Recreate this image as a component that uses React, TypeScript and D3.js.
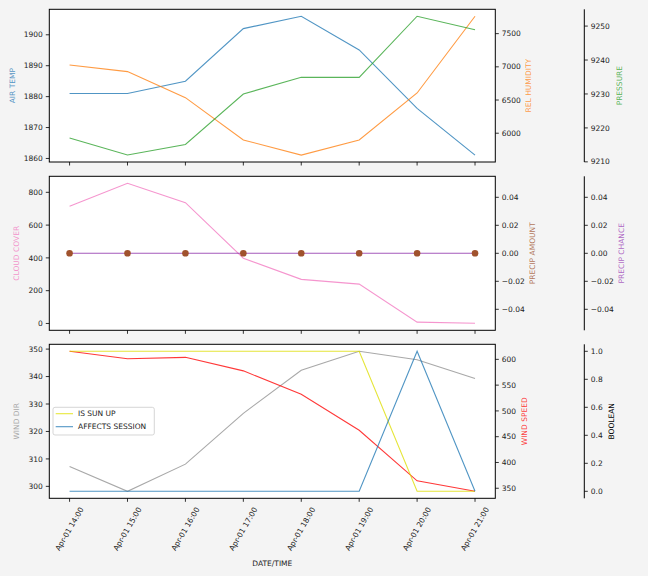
import React from 'react';
import * as d3 from 'd3';

// hourly readings
const times = ['Apr-01 14:00', 'Apr-01 15:00', 'Apr-01 16:00', 'Apr-01 17:00', 'Apr-01 18:00', 'Apr-01 19:00', 'Apr-01 20:00', 'Apr-01 21:00'];
const airTemp = [1881, 1881, 1885, 1902, 1906, 1895.1, 1876.2, 1861.1];
const relHumidity = [7028, 6928, 6536, 5899, 5671, 5899, 6606, 7762];
const pressure = [9217, 9212, 9215.1, 9230, 9234.9, 9234.9, 9252.9, 9248.9];
const cloudCover = [715, 855, 737, 398, 269, 240, 8, 1];
const precipAmount = [0, 0, 0, 0, 0, 0, 0, 0];
const precipChance = [0, 0, 0, 0, 0, 0, 0, 0];
const windDir = [307.2, 298.2, 308.1, 326.6, 342.3, 349.2, 346.1, 339.3];
const windSpeed = [615.6, 601.2, 603.9, 577.7, 532.2, 462.5, 364.4, 344.1];
const isSunUp = [1, 1, 1, 1, 1, 1, 0, 0];
const affectsSession = [0, 0, 0, 0, 0, 0, 1, 0];

// tick labels
const tempTicks = [1860, 1870, 1880, 1890, 1900];
const humTicks = [6000, 6500, 7000, 7500];
const pressTicks = [9210, 9220, 9230, 9240, 9250];
const cloudTicks = [0, 200, 400, 600, 800];
const precipTicks = [-0.04, -0.02, 0, 0.02, 0.04];
const dirTicks = [300, 310, 320, 330, 340, 350];
const speedTicks = [350, 400, 450, 500, 550, 600];
const boolTicks = [0, 0.2, 0.4, 0.6, 0.8, 1.0];

const W = 648;
const H = 576;
const X0 = 49.3;
const X1 = 495.3;
const X2 = 584.3;
const FONT = 'DejaVu Sans, sans-serif';
const FS = 7.5;
const TICK = 3.5;
const ALPHA = 0.78;

// matplotlib-like 5% margins
function padded(vals: number[]): [number, number] {
  const [lo, hi] = d3.extent(vals) as [number, number];
  const r = hi - lo;
  if (r === 0) return [lo - 0.055, hi + 0.055];
  return [lo - 0.05 * r, hi + 0.05 * r];
}

const x = d3.scalePoint<string>().domain(times).range([X0, X1]).padding(0.35);

const fmtMinus = (s: string) => s.replace('-', '\u2212');

function YAxis(props: { scale: d3.ScaleLinear<number, number>; ticks: number[]; at: number; side: 'left' | 'right'; fmt: (v: number) => string; spine?: boolean }) {
  const { scale, ticks, at, side, fmt, spine } = props;
  const dir = side === 'left' ? -1 : 1;
  const [r0, r1] = scale.range();
  return (
    <g>
      {spine && <line x1={at} x2={at} y1={r0} y2={r1} stroke="#000" strokeWidth={1} />}
      {ticks.map((t) => (
        <g key={t} transform={`translate(0,${scale(t)})`}>
          <line x1={at} x2={at + dir * TICK} stroke="#000" strokeWidth={0.8} />
          <text
            x={at + dir * (TICK + 3)}
            dy="0.35em"
            textAnchor={side === 'left' ? 'end' : 'start'}
            fontSize={FS}
            fontFamily={FONT}
            fill="#222"
          >
            {fmtMinus(fmt(t))}
          </text>
        </g>
      ))}
    </g>
  );
}

function AxisLabel(props: { text: string; x: number; y: number; color: string }) {
  return (
    <text
      transform={`translate(${props.x},${props.y}) rotate(-90)`}
      textAnchor="middle"
      dominantBaseline="central"
      fontSize={FS}
      fontFamily={FONT}
      fill={props.color}
      fillOpacity={props.color === '#000' ? 1 : ALPHA}
    >
      {props.text}
    </text>
  );
}

function Series(props: { data: number[]; y: d3.ScaleLinear<number, number>; color: string }) {
  const line = d3
    .line<number>()
    .x((_, i) => x(times[i]) as number)
    .y((d) => props.y(d));
  return <path d={line(props.data) || ''} fill="none" stroke={props.color} strokeOpacity={ALPHA} strokeWidth={1.1} />;
}

function Frame(props: { top: number; bottom: number }) {
  return (
    <g>
      <rect x={X0} y={props.top} width={X1 - X0} height={props.bottom - props.top} fill="#fff" />
      {times.map((t) => (
        <line key={t} x1={x(t)} x2={x(t)} y1={props.bottom} y2={props.bottom + TICK} stroke="#000" strokeWidth={0.8} />
      ))}
    </g>
  );
}

function Border(props: { top: number; bottom: number }) {
  return <rect x={X0} y={props.top} width={X1 - X0} height={props.bottom - props.top} fill="none" stroke="#000" strokeWidth={1} />;
}

export default function App(): JSX.Element {
  const p1 = [9.3, 162];
  const p2 = [176.3, 330.3];
  const p3 = [344.3, 498.3];

  const yTemp = d3.scaleLinear().domain(padded(airTemp)).range([p1[1], p1[0]]);
  const yHum = d3.scaleLinear().domain(padded(relHumidity)).range([p1[1], p1[0]]);
  const yPress = d3.scaleLinear().domain(padded(pressure)).range([p1[1], p1[0]]);

  const yCloud = d3.scaleLinear().domain(padded(cloudCover)).range([p2[1], p2[0]]);
  const yAmt = d3.scaleLinear().domain(padded(precipAmount)).range([p2[1], p2[0]]);
  const yChance = d3.scaleLinear().domain(padded(precipChance)).range([p2[1], p2[0]]);

  const yDir = d3.scaleLinear().domain(padded(windDir)).range([p3[1], p3[0]]);
  const ySpeed = d3.scaleLinear().domain(padded(windSpeed)).range([p3[1], p3[0]]);
  const yBool = d3.scaleLinear().domain(padded(isSunUp.concat(affectsSession))).range([p3[1], p3[0]]);

  const f0 = d3.format('d');
  const f2 = d3.format('.2f');
  const f1 = d3.format('.1f');

  const legend = [
    { name: 'IS SUN UP', color: '#e0e000' },
    { name: 'AFFECTS SESSION', color: '#1f77b4' },
  ];

  return (
    <div style={{ position: 'absolute', left: 0, top: 0 }}>
      <svg width={W} height={H} style={{ display: 'block' }}>
        <rect width={W} height={H} fill="#f4f4f4" />

        {/* panel 1 */}
        <Frame top={p1[0]} bottom={p1[1]} />
        <Series data={airTemp} y={yTemp} color="#1f77b4" />
        <Series data={relHumidity} y={yHum} color="#ff7f0e" />
        <Series data={pressure} y={yPress} color="#2ca02c" />
        <Border top={p1[0]} bottom={p1[1]} />
        <YAxis scale={yTemp} ticks={tempTicks} at={X0} side="left" fmt={f0} />
        <YAxis scale={yHum} ticks={humTicks} at={X1} side="right" fmt={f0} />
        <YAxis scale={yPress} ticks={pressTicks} at={X2} side="right" fmt={f0} spine />
        <AxisLabel text="AIR TEMP" x={12} y={(p1[0] + p1[1]) / 2} color="#1f77b4" />
        <AxisLabel text="REL HUMIDITY" x={528.7} y={(p1[0] + p1[1]) / 2} color="#ff7f0e" />
        <AxisLabel text="PRESSURE" x={619.3} y={(p1[0] + p1[1]) / 2} color="#2ca02c" />

        {/* panel 2 */}
        <Frame top={p2[0]} bottom={p2[1]} />
        <Series data={cloudCover} y={yCloud} color="#f277c0" />
        <Series data={precipChance} y={yChance} color="#8a2ca8" />
        {precipAmount.map((d, i) => (
          <circle key={i} cx={x(times[i])} cy={yAmt(d)} r={3.3} fill="#a0522d" />
        ))}
        <Border top={p2[0]} bottom={p2[1]} />
        <YAxis scale={yCloud} ticks={cloudTicks} at={X0} side="left" fmt={f0} />
        <YAxis scale={yAmt} ticks={precipTicks} at={X1} side="right" fmt={f2} />
        <YAxis scale={yChance} ticks={precipTicks} at={X2} side="right" fmt={f2} spine />
        <AxisLabel text="CLOUD COVER" x={16.7} y={(p2[0] + p2[1]) / 2} color="#f277c0" />
        <AxisLabel text="PRECIP AMOUNT" x={532} y={(p2[0] + p2[1]) / 2} color="#a0522d" />
        <AxisLabel text="PRECIP CHANCE" x={621.7} y={(p2[0] + p2[1]) / 2} color="#9a3cb4" />

        {/* panel 3 */}
        <Frame top={p3[0]} bottom={p3[1]} />
        <Series data={windDir} y={yDir} color="#909090" />
        <Series data={windSpeed} y={ySpeed} color="#ff0000" />
        <Series data={isSunUp} y={yBool} color="#dede00" />
        <Series data={affectsSession} y={yBool} color="#1f77b4" />
        <Border top={p3[0]} bottom={p3[1]} />
        <YAxis scale={yDir} ticks={dirTicks} at={X0} side="left" fmt={f0} />
        <YAxis scale={ySpeed} ticks={speedTicks} at={X1} side="right" fmt={f0} />
        <YAxis scale={yBool} ticks={boolTicks} at={X2} side="right" fmt={f1} spine />
        <AxisLabel text="WIND DIR" x={16.7} y={(p3[0] + p3[1]) / 2} color="#909090" />
        <AxisLabel text="WIND SPEED" x={524} y={(p3[0] + p3[1]) / 2} color="#ff0000" />
        <AxisLabel text="BOOLEAN" x={611.3} y={(p3[0] + p3[1]) / 2} color="#000" />

        {/* legend */}
        <g transform="translate(53,407.3)">
          <rect width={101.3} height={27.7} rx={2} fill="#fff" fillOpacity={0.8} stroke="#ccc" strokeWidth={0.8} />
          {legend.map((l, i) => (
            <g key={l.name} transform={`translate(0,${6.4 + i * 13})`}>
              <line x1={2.7} x2={20} stroke={l.color} strokeOpacity={ALPHA} strokeWidth={1.1} />
              <text x={25} dy="0.35em" fontSize={FS} fontFamily={FONT} fill="#222">
                {l.name}
              </text>
            </g>
          ))}
        </g>

        {/* x tick labels */}
        {times.map((t) => (
          <text
            key={t}
            transform={`translate(${x(t)},529) rotate(-60)`}
            textAnchor="middle"
            dominantBaseline="central"
            fontSize={FS}
            fontFamily={FONT}
            fill="#222"
          >
            {t}
          </text>
        ))}
        <text x={(X0 + X1) / 2} y={563.3} textAnchor="middle" dominantBaseline="central" fontSize={FS} fontFamily={FONT} fill="#222">
          DATE/TIME
        </text>
      </svg>
    </div>
  );
}
